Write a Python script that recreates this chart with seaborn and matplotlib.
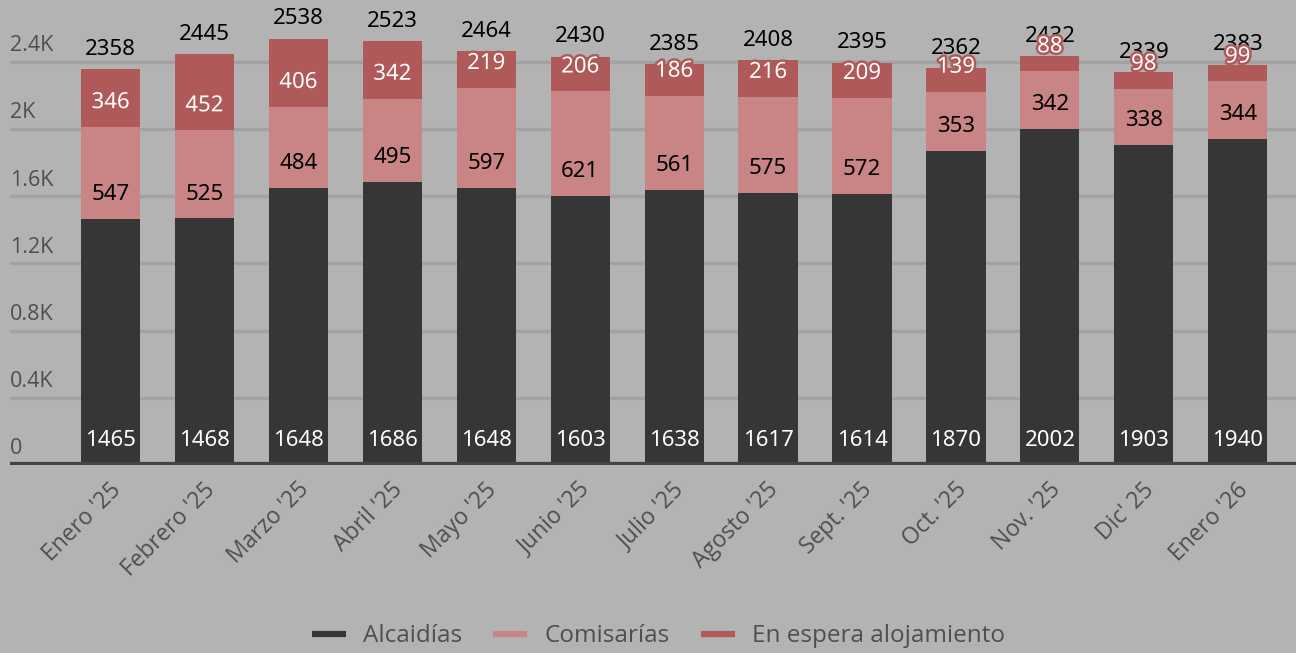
import matplotlib
matplotlib.use("Agg")
import matplotlib.pyplot as plt
import matplotlib.patheffects as pe
import matplotlib.transforms as mtransforms
from matplotlib.lines import Line2D
import numpy as np
import pandas as pd
import seaborn as sns

# data
months = ["Enero '25", "Febrero '25", "Marzo '25", "Abril '25", "Mayo '25", "Junio '25",
          "Julio '25", "Agosto '25", "Sept. '25", "Oct. '25", "Nov. '25", "Dic' 25", "Enero '26"]
alcaidias = [1465, 1468, 1648, 1686, 1648, 1603, 1638, 1617, 1614, 1870, 2002, 1903, 1940]
comisarias = [547, 525, 484, 495, 597, 621, 561, 575, 572, 353, 342, 338, 344]
en_espera = [346, 452, 406, 342, 219, 206, 186, 216, 209, 139, 88, 98, 99]
totals = [2358, 2445, 2538, 2523, 2464, 2430, 2385, 2408, 2395, 2362, 2432, 2339, 2383]
y_ticks = [0, 400, 800, 1200, 1600, 2000, 2400]
y_tick_labels = ["0", "0.4K", "0.8K", "1.2K", "1.6K", "2K", "2.4K"]
series_names = ["Alcaidías", "Comisarías", "En espera alojamiento"]

BG = "#b3b3b3"
C_DARK = "#363636"
C_PINK = "#c98585"
C_RED = "#b05959"
GRID = "#a2a2a2"
TXT = "#4f4f4f"

df = pd.DataFrame({"mes": months, "alc": alcaidias, "com": comisarias, "esp": en_espera})
df["lvl2"] = df["alc"] + df["com"]
df["lvl3"] = df["lvl2"] + df["esp"]

sns.set_style("white")
plt.rcParams["font.family"] = ["Open Sans", "DejaVu Sans"]

fig = plt.figure(figsize=(12.96, 6.53), dpi=100, facecolor=BG)
ax = fig.add_axes([10 / 1296, 188 / 653, 1286 / 1296, 465 / 653])
ax.set_facecolor(BG)

# stacked bars drawn as overlapping cumulative layers
bar_w = 0.63
for col, c in (("lvl3", C_RED), ("lvl2", C_PINK), ("alc", C_DARK)):
    sns.barplot(data=df, x="mes", y=col, color=c, width=bar_w, saturation=1, ax=ax,
                zorder=2, linewidth=0, edgecolor=c)

ax.set_xlim(-1.07, 12.62)
ax.set_ylim(0, 2768)
for s in ax.spines.values():
    s.set_visible(False)

# gridlines + left-aligned labels sitting above them
for v, lab in zip(y_ticks, y_tick_labels):
    if v > 0:
        ax.axhline(v, color=GRID, lw=2.5, zorder=1)
    ax.annotate(lab, xy=(0, v), xycoords=("axes fraction", "data"), xytext=(0, 4),
                textcoords="offset points", ha="left", va="bottom", fontsize=15.5, color=TXT)
ax.axhline(0, color="#444444", lw=4.5, zorder=3)

ax.set_yticks([])
ax.set_xlabel("")
ax.set_ylabel("")
ax.tick_params(axis="x", length=0, pad=14)
ax.set_xticks(range(len(months)))
ax.set_xticklabels(months, rotation=45, ha="right", va="center", rotation_mode="anchor",
                   fontsize=16.5, color=TXT)
shift = mtransforms.ScaledTranslation(7 / 100, -2 / 100, fig.dpi_scale_trans)
for t in ax.get_xticklabels():
    t.set_transform(t.get_transform() + shift)

lbl_font = ["Noto Sans", "DejaVu Sans"]
off = 145
for i in range(len(months)):
    ax.text(i, totals[i] + 118, str(totals[i]), ha="center", va="center", fontsize=16,
            color="black", family=lbl_font, zorder=4)
    ax.text(i, off, str(alcaidias[i]), ha="center", va="center", fontsize=16,
            color="white", family=lbl_font, zorder=4)
    ax.text(i, alcaidias[i] + off, str(comisarias[i]), ha="center", va="center", fontsize=16,
            color="black", family=lbl_font, zorder=4)
    ax.text(i, alcaidias[i] + comisarias[i] + off, str(en_espera[i]), ha="center", va="center",
            fontsize=16, color="white", family=lbl_font, zorder=5,
            path_effects=[pe.withStroke(linewidth=3.5, foreground=C_RED)])

handles = [Line2D([], [], color=c, lw=4.5, solid_capstyle="butt") for c in (C_DARK, C_PINK, C_RED)]
fig.legend(handles, series_names, loc="center", bbox_to_anchor=(0.508, 0.026), ncol=3,
           frameon=False, fontsize=17.5, labelcolor=TXT, handlelength=1.4, columnspacing=1.3,
           handletextpad=0.7)

fig.savefig("out.png", dpi=100, facecolor=BG)
